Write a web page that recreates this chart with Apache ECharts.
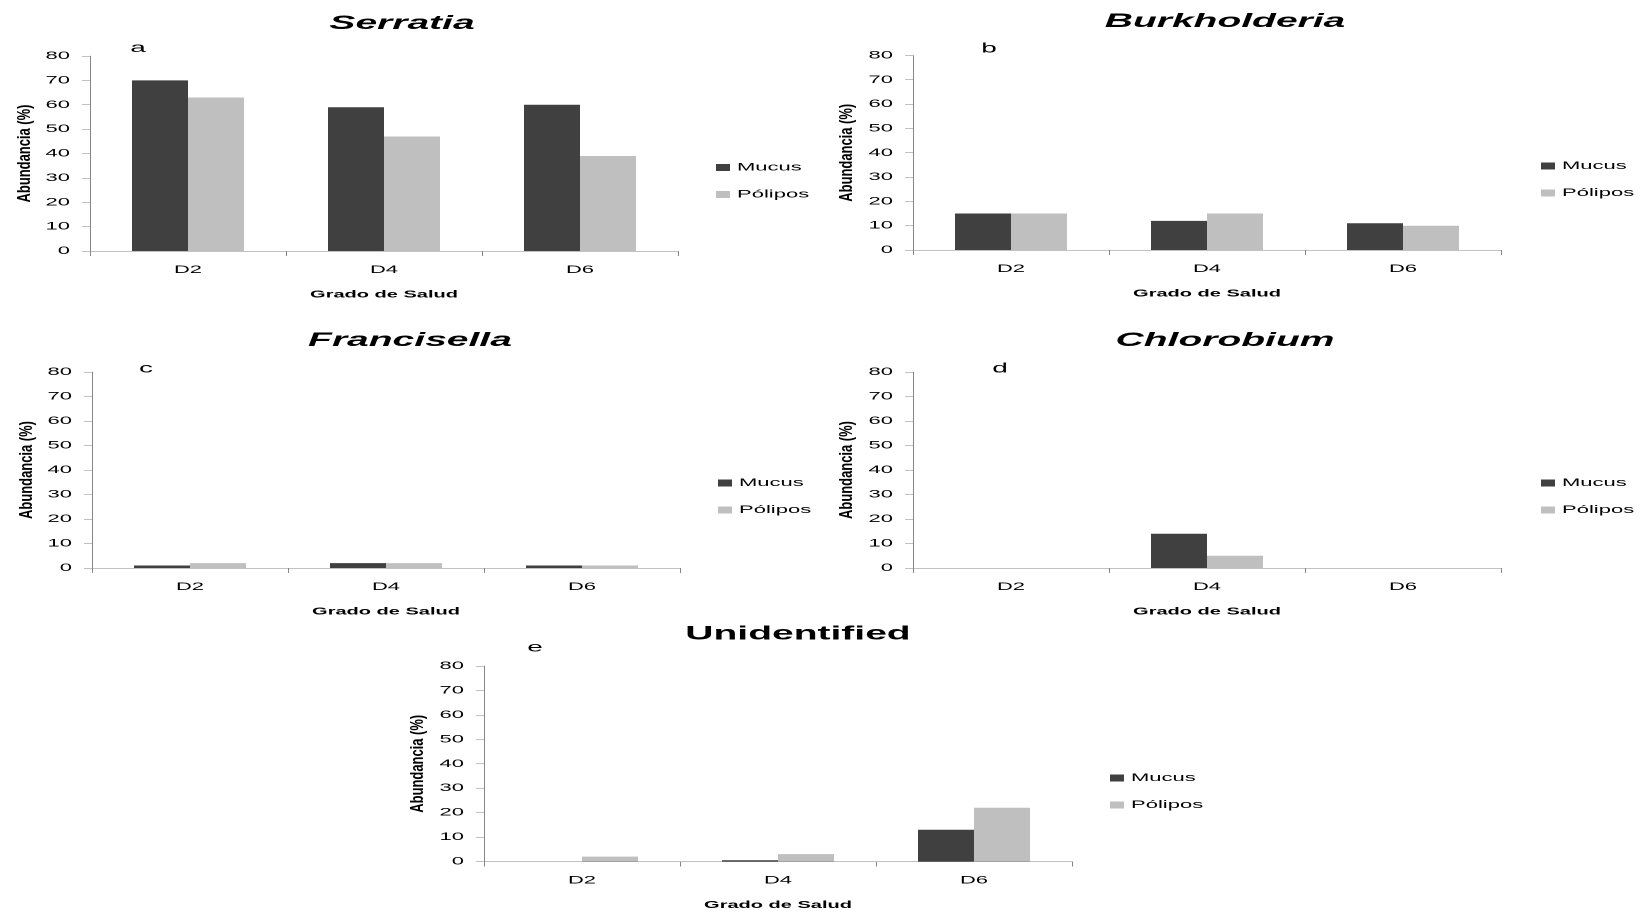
<!DOCTYPE html>
<html>
<head>
<meta charset="utf-8">
<script src="https://cdn.jsdelivr.net/npm/echarts@6/dist/echarts.min.js"></script>
<style>
html,body{margin:0;padding:0;overflow:hidden;background:#fff;}
#wrap{width:1640px;height:915px;overflow:hidden;}
#c{width:1640px;height:1830px;transform:scaleY(0.5);transform-origin:0 0;}
</style>
</head>
<body>
<div id="wrap"><div id="c"></div></div>
<script>
// ---- data ----
const categories = ['D2', 'D4', 'D6'];
const seriesNames = ['Mucus', 'Pólipos'];
const panelTitles = ['Serratia', 'Burkholderia', 'Francisella', 'Chlorobium', 'Unidentified'];
const panelLetters = ['a', 'b', 'c', 'd', 'e'];
const xAxisTitle = 'Grado de Salud';
const yAxisTitle = 'Abundancia (%)';
const yMin = 0, yMax = 80, yStep = 10;

const serratiaMucus = [70, 59, 60];
const serratiaPolipos = [63, 47, 39];
const burkholderiaMucus = [15, 12, 11];
const burkholderiaPolipos = [15, 15, 10];
const francisellaMucus = [1, 2, 1];
const francisellaPolipos = [2, 2, 1];
const chlorobiumMucus = [0, 14, 0];
const chlorobiumPolipos = [0, 5, 0];
const unidentifiedMucus = [0, 0.5, 13];
const unidentifiedPolipos = [2, 3, 22];

const panelData = [
  [serratiaMucus, serratiaPolipos],
  [burkholderiaMucus, burkholderiaPolipos],
  [francisellaMucus, francisellaPolipos],
  [chlorobiumMucus, chlorobiumPolipos],
  [unidentifiedMucus, unidentifiedPolipos]
];

// ---- layout (drawing space is 2x tall, squashed by CSS) ----
const grids = [
  {left: 90, top: 112, width: 588, height: 390},
  {left: 913, top: 111, width: 588, height: 389},
  {left: 92, top: 744, width: 588, height: 392},
  {left: 913, top: 744, width: 588, height: 392},
  {left: 484, top: 1332, width: 588, height: 391}
];
const titlePos = [[402, 47], [1225, 43], [410, 681], [1225, 681], [798, 1268]];
const titleItalic = [true, true, true, true, false];
const letterPos = [[138, 96], [989, 97], [146, 737], [1000, 737], [535, 1295]];
const legendPos = [[716, 324], [1541, 321], [718, 955], [1541, 955], [1110, 1545]];
const yNameX = [25, 847, 27, 847, 418];

const colors = ['#404040', '#bfbfbf'];
const FONT = '"Liberation Sans", Arial, sans-serif';
const axisColor = '#868686';

const option = {
  animation: false,
  backgroundColor: '#ffffff',
  grid: grids.map(g => Object.assign({containLabel: false}, g)),
  xAxis: grids.map((g, i) => ({
    type: 'category',
    gridIndex: i,
    data: categories,
    boundaryGap: true,
    axisLine: {show: true, lineStyle: {color: axisColor, width: 1}},
    axisTick: {show: true, length: 10, lineStyle: {color: axisColor}},
    axisLabel: {margin: 27, fontSize: 22, color: '#000', fontFamily: FONT},
    splitLine: {show: false},
    name: xAxisTitle,
    nameLocation: 'middle',
    nameGap: 77,
    nameTextStyle: {fontSize: 20, fontWeight: 'bold', color: '#000', fontFamily: FONT}
  })),
  yAxis: grids.map((g, i) => ({
    type: 'value',
    gridIndex: i,
    min: yMin,
    max: yMax,
    interval: yStep,
    axisLine: {show: true, lineStyle: {color: axisColor, width: 1}},
    axisTick: {show: true, length: 8, lineStyle: {color: axisColor}},
    axisLabel: {margin: 20, fontSize: 22, color: '#000', fontFamily: FONT},
    splitLine: {show: false}
  })),
  legend: legendPos.map(p => ({
    data: seriesNames,
    orient: 'vertical',
    left: p[0],
    top: p[1],
    padding: 0,
    itemWidth: 14,
    itemHeight: 14,
    itemGap: 32,
    icon: 'rect',
    selectedMode: false,
    textStyle: {fontSize: 22, lineHeight: 22, color: '#000', fontFamily: FONT, padding: [0, 0, 0, 2]}
  })),
  series: [],
  graphic: []
};

panelData.forEach((pair, i) => {
  pair.forEach((vals, k) => {
    option.series.push({
      type: 'bar',
      name: seriesNames[k],
      xAxisIndex: i,
      yAxisIndex: i,
      data: vals,
      barGap: '0%',
      barCategoryGap: '42.86%',
      itemStyle: {color: colors[k]},
      emphasis: {disabled: true}
    });
  });
});

panelTitles.forEach((t, i) => {
  option.graphic.push({
    type: 'text',
    x: titlePos[i][0],
    y: titlePos[i][1],
    silent: true,
    style: {
      text: t,
      font: (titleItalic[i] ? 'italic ' : '') + 'bold 39px ' + FONT,
      fill: '#000',
      align: 'center', textAlign: 'center',
      verticalAlign: 'middle', textVerticalAlign: 'middle'
    }
  });
  option.graphic.push({
    type: 'text',
    x: letterPos[i][0],
    y: letterPos[i][1],
    silent: true,
    style: {
      text: panelLetters[i],
      font: '28px ' + FONT,
      fill: '#000',
      align: 'center', textAlign: 'center',
      verticalAlign: 'middle', textVerticalAlign: 'middle'
    }
  });
  const g = grids[i];
  option.graphic.push({
    type: 'text',
    x: yNameX[i],
    y: g.top + g.height / 2,
    rotation: Math.PI / 2,
    scaleX: 1.44,
    silent: true,
    style: {
      text: yAxisTitle,
      font: 'bold 18px ' + FONT,
      fill: '#000',
      align: 'center', textAlign: 'center',
      verticalAlign: 'middle', textVerticalAlign: 'middle'
    }
  });
});

const chart = echarts.init(document.getElementById('c'), null, {renderer: 'canvas'});
chart.setOption(option);
</script>
</body>
</html>
